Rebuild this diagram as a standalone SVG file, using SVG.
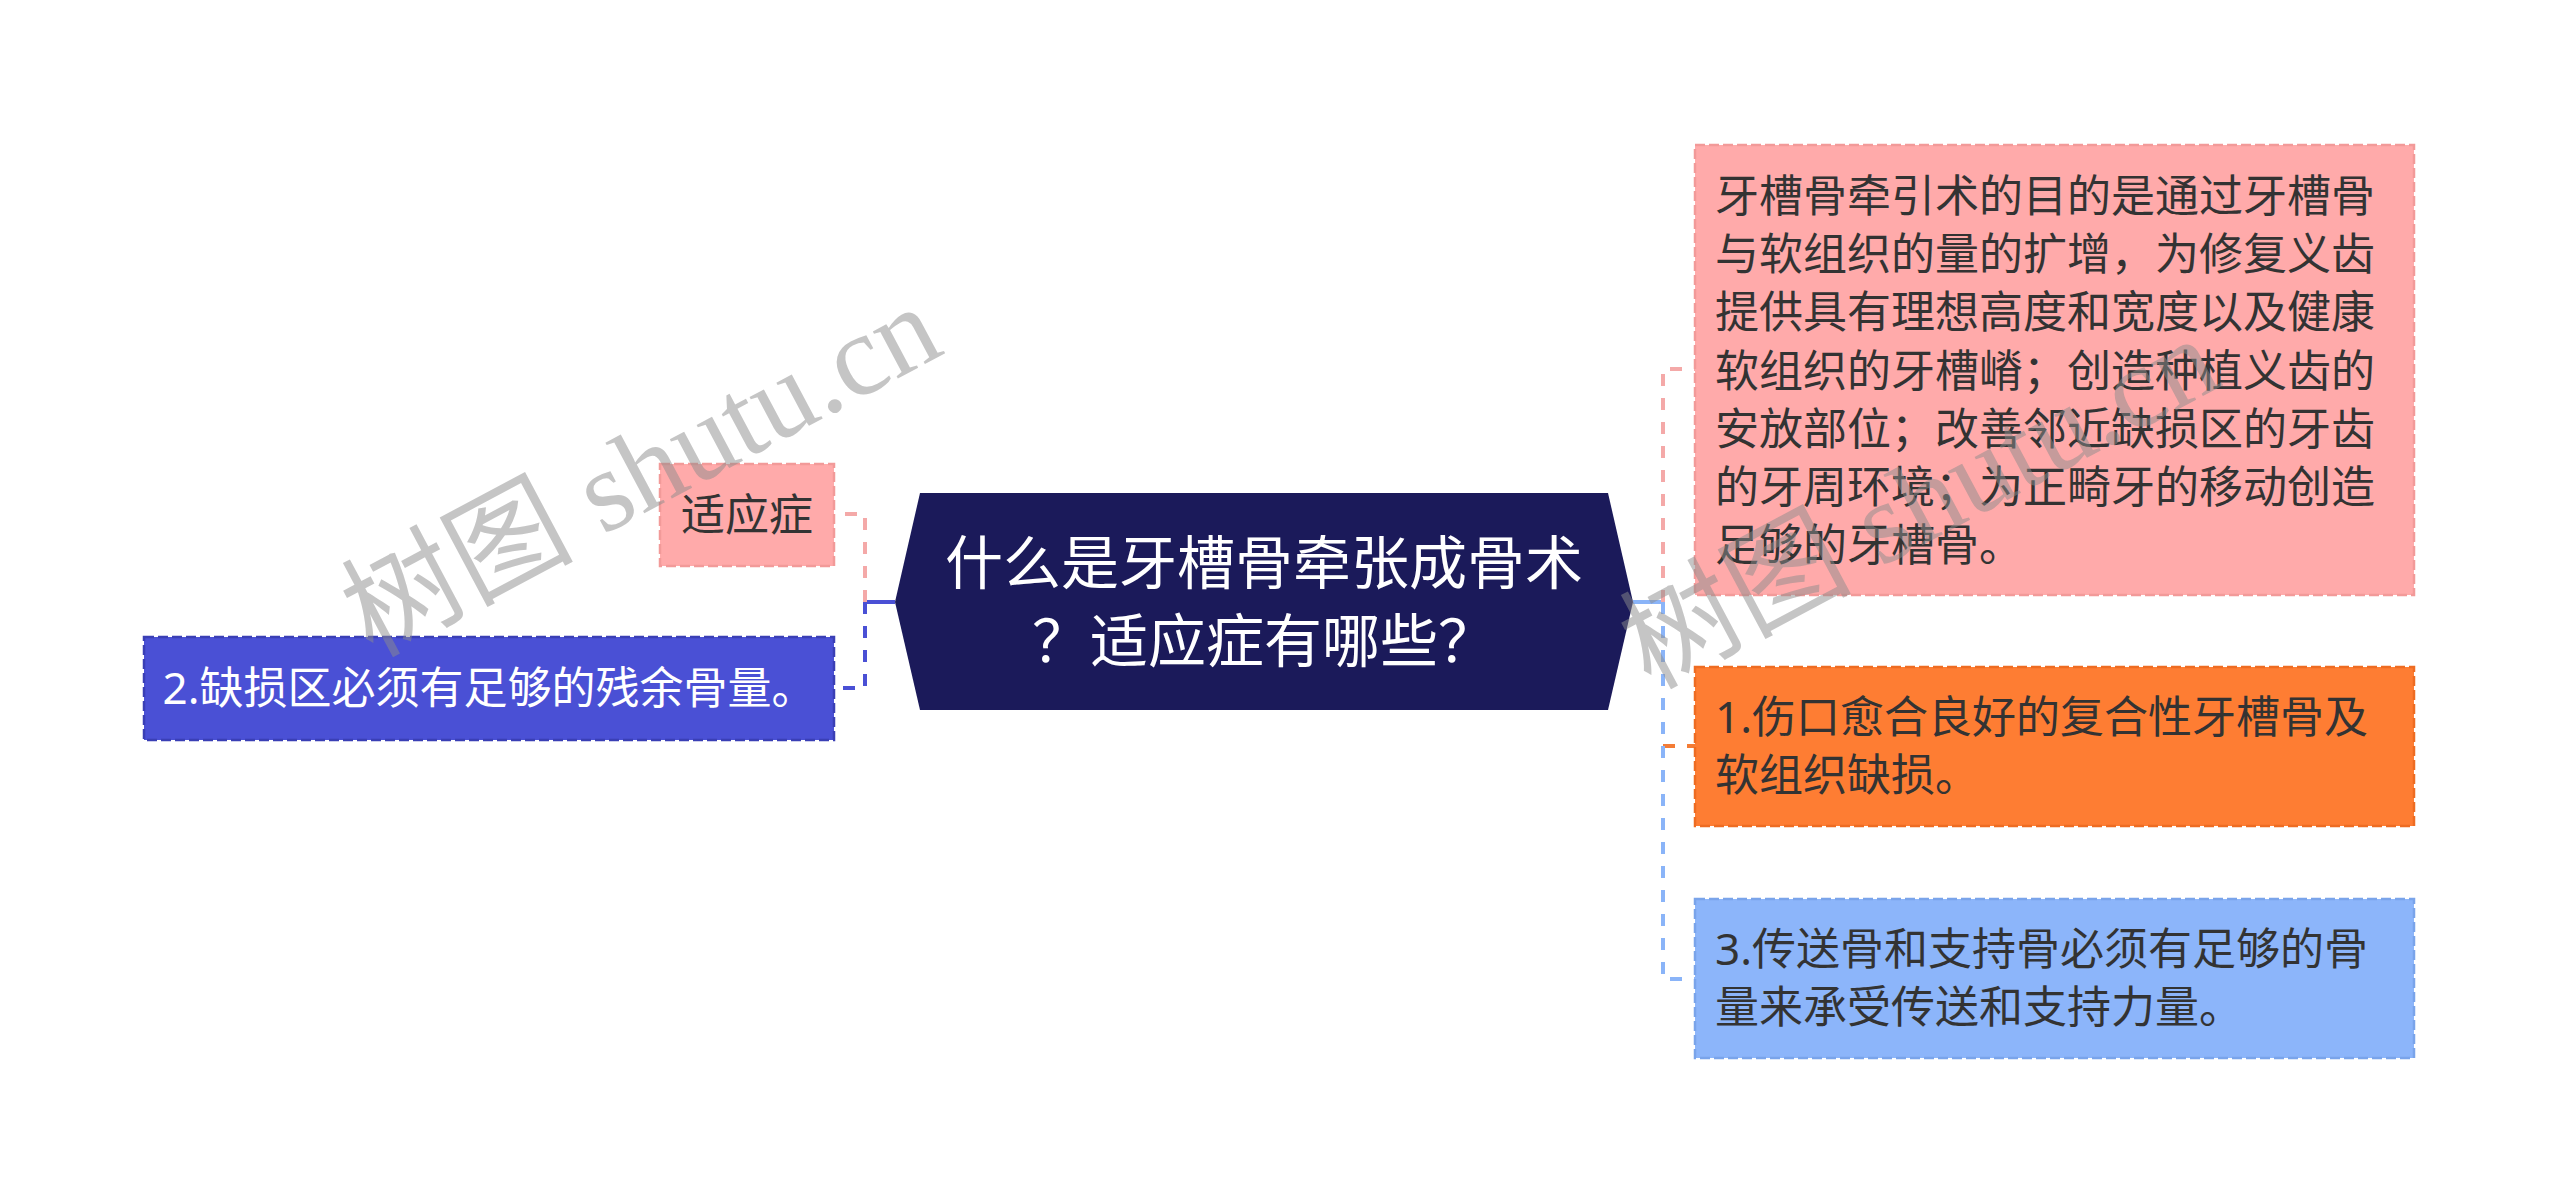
<svg xmlns="http://www.w3.org/2000/svg" width="2560" height="1204" viewBox="0 0 2560 1204">
<defs>
<style>
.t{font-family:'Noto Sans','Noto Sans CJK SC',sans-serif;font-size:44px;fill:#333333}
.w{fill:#ffffff}
.c{font-size:58px}
.box{stroke-width:2.5;stroke-dasharray:10 4}
.conn{fill:none;stroke-width:4;stroke-dasharray:12 12}
.wm{font-family:'Liberation Serif','Noto Sans CJK SC',serif;font-size:116px;fill:#8c8c8c;fill-opacity:0.5}
</style>
</defs>
<rect x="0" y="0" width="2560" height="1204" fill="#ffffff"/>
<g id="connectors">
<line x1="895" y1="602" x2="864" y2="602" stroke="#4a50d5" stroke-width="4"/>
<path class="conn" stroke="#f4a9a8" d="M865,602 V514 H834"/>
<path class="conn" stroke="#4a50d5" d="M865,602 V688 H834"/>
<line x1="1633" y1="602" x2="1664" y2="602" stroke="#8ab4f8" stroke-width="4"/>
<path class="conn" stroke="#f4a9a8" d="M1663,602 V369 H1695"/>
<path class="conn" stroke="#f47c35" d="M1663,602 V746 H1695"/>
<path class="conn" stroke="#8ab4f8" d="M1663,602 V979 H1695"/>
</g>
<g id="root">
<polygon points="895,602 920,493 1608,493 1633,602 1608,710 920,710" fill="#1b1a5a"/>
<text class="t w c" x="1264" y="584" text-anchor="middle">什么是牙槽骨牵张成骨术</text>
<text class="t w c" x="1264" y="662" text-anchor="middle">？适应症有哪些？</text>
</g>
<g id="node-syz">
<rect class="box" x="660" y="464" width="174" height="102" fill="#ffaaaa" stroke="#f29a99"/>
<text class="t" x="747" y="531" text-anchor="middle">适应症</text>
</g>
<g id="node-2">
<rect class="box" x="144" y="637" width="690" height="103" fill="#4a50d5" stroke="#3a3fb5"/>
<text class="t w" x="489" y="704" text-anchor="middle">2.缺损区必须有足够的残余骨量。</text>
</g>
<g id="node-purpose">
<rect class="box" x="1695" y="145" width="719" height="450" fill="#ffaaaa" stroke="#f29a99"/>
<text class="t" x="1715" y="212">牙槽骨牵引术的目的是通过牙槽骨</text>
<text class="t" x="1715" y="270">与软组织的量的扩增，为修复义齿</text>
<text class="t" x="1715" y="328">提供具有理想高度和宽度以及健康</text>
<text class="t" x="1715" y="387">软组织的牙槽嵴；创造种植义齿的</text>
<text class="t" x="1715" y="445">安放部位；改善邻近缺损区的牙齿</text>
<text class="t" x="1715" y="503">的牙周环境；为正畸牙的移动创造</text>
<text class="t" x="1715" y="561">足够的牙槽骨。</text>
</g>
<g id="node-1">
<rect class="box" x="1695" y="667" width="719" height="159" fill="#fe7d33" stroke="#ee6c22"/>
<text class="t" x="1715" y="733">1.伤口愈合良好的复合性牙槽骨及</text>
<text class="t" x="1715" y="791">软组织缺损。</text>
</g>
<g id="node-3">
<rect class="box" x="1695" y="899" width="719" height="159" fill="#8cb5fa" stroke="#7aa4ea"/>
<text class="t" x="1715" y="965">3.传送骨和支持骨必须有足够的骨</text>
<text class="t" x="1715" y="1023">量来承受传送和支持力量。</text>
</g>
<g id="watermark">
<text class="wm" transform="translate(372,658) rotate(-28)">树图 shutu.cn</text>
<text class="wm" transform="translate(1650,690) rotate(-28)">树图 shutu.cn</text>
</g>
</svg>
